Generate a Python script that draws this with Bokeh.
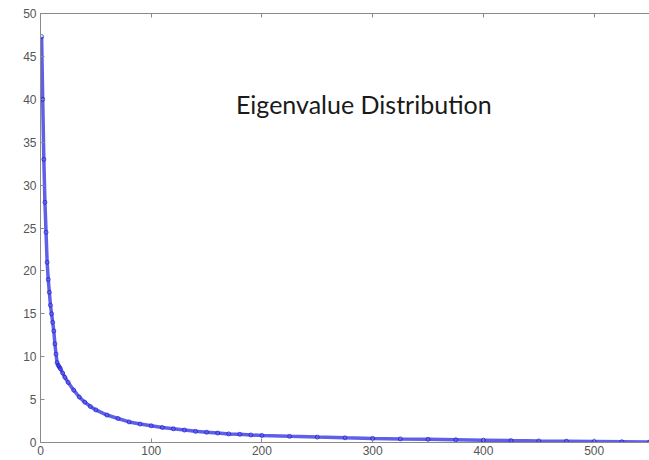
from bokeh.plotting import figure
from bokeh.models import Range1d, LinearAxis, FixedTicker, Label
from bokeh.embed import file_html
from bokeh.resources import INLINE

# Eigenvalue index and magnitude
idx = [1, 2, 3, 4, 5, 6, 7, 8, 9, 10, 11, 12, 13, 14, 15, 16, 17, 18, 20,
       22, 25, 30, 35, 40, 45, 50, 60, 70, 80, 90, 100, 110, 120, 130, 140, 150,
       160, 170, 180, 190, 200, 225, 250, 275, 300, 325, 350, 375, 400, 425, 450,
       475, 500, 525, 550]
eig = [47.3, 40.0, 33.0, 28.0, 24.5, 21.0, 19.0, 17.5, 16.0, 15.0, 14.0, 13.0,
       11.5, 10.3, 9.3, 9.0, 8.8, 8.6, 8.1,
       7.6, 7.0, 6.1, 5.3, 4.7, 4.2, 3.8, 3.2, 2.8, 2.4, 2.15, 1.95, 1.75, 1.6,
       1.45, 1.3, 1.2, 1.1, 1.0, 0.95, 0.88, 0.82, 0.72, 0.63, 0.55, 0.48,
       0.42, 0.37, 0.32, 0.27, 0.22, 0.18, 0.15, 0.12, 0.09, 0.06]
x_ticks = [0, 100, 200, 300, 400, 500]
y_ticks = [0, 5, 10, 15, 20, 25, 30, 35, 40, 45, 50]
title_text = "Eigenvalue Distribution"

p = figure(width=649, height=460, output_backend="svg", toolbar_location=None,
           x_range=Range1d(0, 550), y_range=Range1d(0, 50),
           min_border_left=40, min_border_right=0, min_border_top=13,
           min_border_bottom=18, x_axis_location=None, y_axis_location=None)
p.grid.visible = False
p.outline_line_color = None
p.background_fill_color = "white"

p.line(idx, eig, line_color="#2a2ae0", line_width=3.5, line_alpha=0.75)
p.scatter(idx, eig, marker="circle", size=4, line_color="#1818d0",
          fill_color=None, line_alpha=0.7)

def style(ax):
    ax.axis_line_color = "#8a8a8a"
    ax.axis_line_width = 1
    ax.major_tick_in = 4
    ax.major_tick_out = 0
    ax.major_tick_line_color = "#8a8a8a"
    ax.minor_tick_line_color = None
    ax.major_label_text_font = "Liberation Sans"
    ax.major_label_text_font_size = "12px"
    ax.major_label_text_color = "#555555"
    ax.major_label_standoff = 4

xb = LinearAxis(ticker=FixedTicker(ticks=x_ticks))
style(xb)
xb.major_label_standoff = 3
p.add_layout(xb, "below")
yl = LinearAxis(ticker=FixedTicker(ticks=y_ticks))
style(yl)
p.add_layout(yl, "left")
xt = LinearAxis(ticker=FixedTicker(ticks=x_ticks))
style(xt)
xt.major_label_overrides = {t: "" for t in x_ticks}
xt.major_label_standoff = 0
p.add_layout(xt, "above")

p.add_layout(Label(x=292, y=39.5, text=title_text, text_align="center",
                   text_baseline="middle", text_font="Lato",
                   text_font_size="25px", text_color="#1a1a1a"))

open("out.html", "w").write(file_html(p, INLINE))
